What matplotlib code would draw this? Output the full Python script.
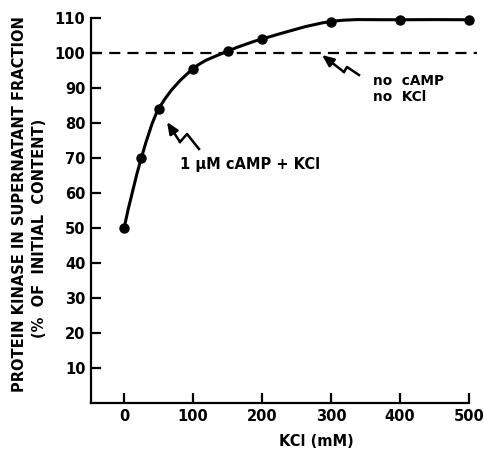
import matplotlib
matplotlib.use('Agg')
import matplotlib.pyplot as plt
from matplotlib.path import Path
from matplotlib.patches import PathPatch

plt.rcParams['font.family'] = ['DejaVu Sans']
plt.rcParams['font.weight'] = 'bold'

# data
kcl_mm = [0, 25, 50, 100, 150, 200, 300, 400, 500]
kinase_pct = [50, 70, 84, 95.5, 100.5, 104, 109, 109.5, 109.5]
control_level = 100

x_ticks = [0, 100, 200, 300, 400, 500]
y_ticks = [10, 20, 30, 40, 50, 60, 70, 80, 90, 100, 110]

fig = plt.figure(figsize=(4.85, 4.49), dpi=100)
ax = fig.add_axes([0.1876, 0.1024, 0.7794, 0.8575])
ax.set_xlim(-48, 500)
ax.set_ylim(0, 110)


def smooth_path(xs, ys):
    # cubic hermite segments (centred secant slopes) -> bezier path
    n = len(xs)
    h = [xs[i + 1] - xs[i] for i in range(n - 1)]
    d = [(ys[i + 1] - ys[i]) / h[i] for i in range(n - 1)]
    m = [0.0] * n
    for i in range(1, n - 1):
        m[i] = (ys[i + 1] - ys[i - 1]) / (xs[i + 1] - xs[i - 1])
    m[0] = ((2 * h[0] + h[1]) * d[0] - h[0] * d[1]) / (h[0] + h[1])
    m[-1] = 0.0
    verts = [(xs[0], ys[0])]
    codes = [Path.MOVETO]
    for i in range(n - 1):
        verts += [(xs[i] + h[i] / 3, ys[i] + m[i] * h[i] / 3),
                  (xs[i + 1] - h[i] / 3, ys[i + 1] - m[i + 1] * h[i] / 3),
                  (xs[i + 1], ys[i + 1])]
        codes += [Path.CURVE4] * 3
    return Path(verts, codes)


ax.add_patch(PathPatch(smooth_path(kcl_mm, kinase_pct), fill=False,
                       lw=2.2, color='black', clip_on=False))
ax.plot(kcl_mm, kinase_pct, 'o', color='black', ms=6.5, clip_on=False, zorder=5)
ax.axhline(control_level, xmin=0, xmax=1.02, color='black', lw=1.6,
           dashes=(5, 3.2), clip_on=False)

# axes styling
for s in ['top', 'right']:
    ax.spines[s].set_visible(False)
for s in ['left', 'bottom']:
    ax.spines[s].set_linewidth(1.6)
ax.set_xticks(x_ticks)
ax.set_yticks(y_ticks)
ax.tick_params(axis='both', direction='in', length=7, width=1.6,
               labelsize=10.5, pad=4)
ax.tick_params(axis='x', pad=4)
for lab in ax.get_xticklabels() + ax.get_yticklabels():
    lab.set_fontweight('bold')

# y label as two separate lines (second line sits lower in the original)
fig.text(20 / 485, 1 - 204 / 449, 'PROTEIN KINASE IN SUPERNATANT FRACTION',
         rotation=90, ha='center', va='center', fontsize=10.5, fontweight='bold')
fig.text(40 / 485, 1 - 228 / 449, '(%  OF  INITIAL  CONTENT)',
         rotation=90, ha='center', va='center', fontsize=10.5, fontweight='bold')
fig.text(316 / 485, 1 - 442 / 449, 'KCl (mM)', ha='center', va='center',
         fontsize=10.5, fontweight='bold')

# squiggle arrows (pixel offsets from arrow tip, y down)
squiggle = [(0, 0), (13, 20), (20, 12), (32, 27)]
squiggle2 = [(0, 0), (22, 17), (25, 12), (37, 20)]


def draw_squiggle(tip_px, shape):
    H = fig.bbox.height
    pts = [(tip_px[0] + dx, H - (tip_px[1] + dy)) for dx, dy in shape]
    xs = [p[0] for p in pts]
    ys = [p[1] for p in pts]
    fig.add_artist(plt.Line2D(xs[1:], ys[1:], color='black', lw=1.8,
                              transform=None))
    ax.annotate('', xy=pts[0], xycoords='figure pixels',
                xytext=pts[1], textcoords='figure pixels',
                arrowprops=dict(arrowstyle='-|>,head_length=0.7,head_width=0.3',
                                color='black', lw=1.8, shrinkA=0, shrinkB=0))


draw_squiggle((167, 122), squiggle)
draw_squiggle((322, 55), squiggle2)

fig.text(250 / 485, 1 - 165 / 449, '1 μM cAMP + KCl', ha='center', va='center',
         fontsize=10.5, fontweight='bold')
fig.text(373 / 485, 1 - 89 / 449, 'no  cAMP\nno  KCl', ha='left', va='center',
         fontsize=9.8, fontweight='bold', linespacing=1.15)

fig.savefig('out.png', dpi=100)
